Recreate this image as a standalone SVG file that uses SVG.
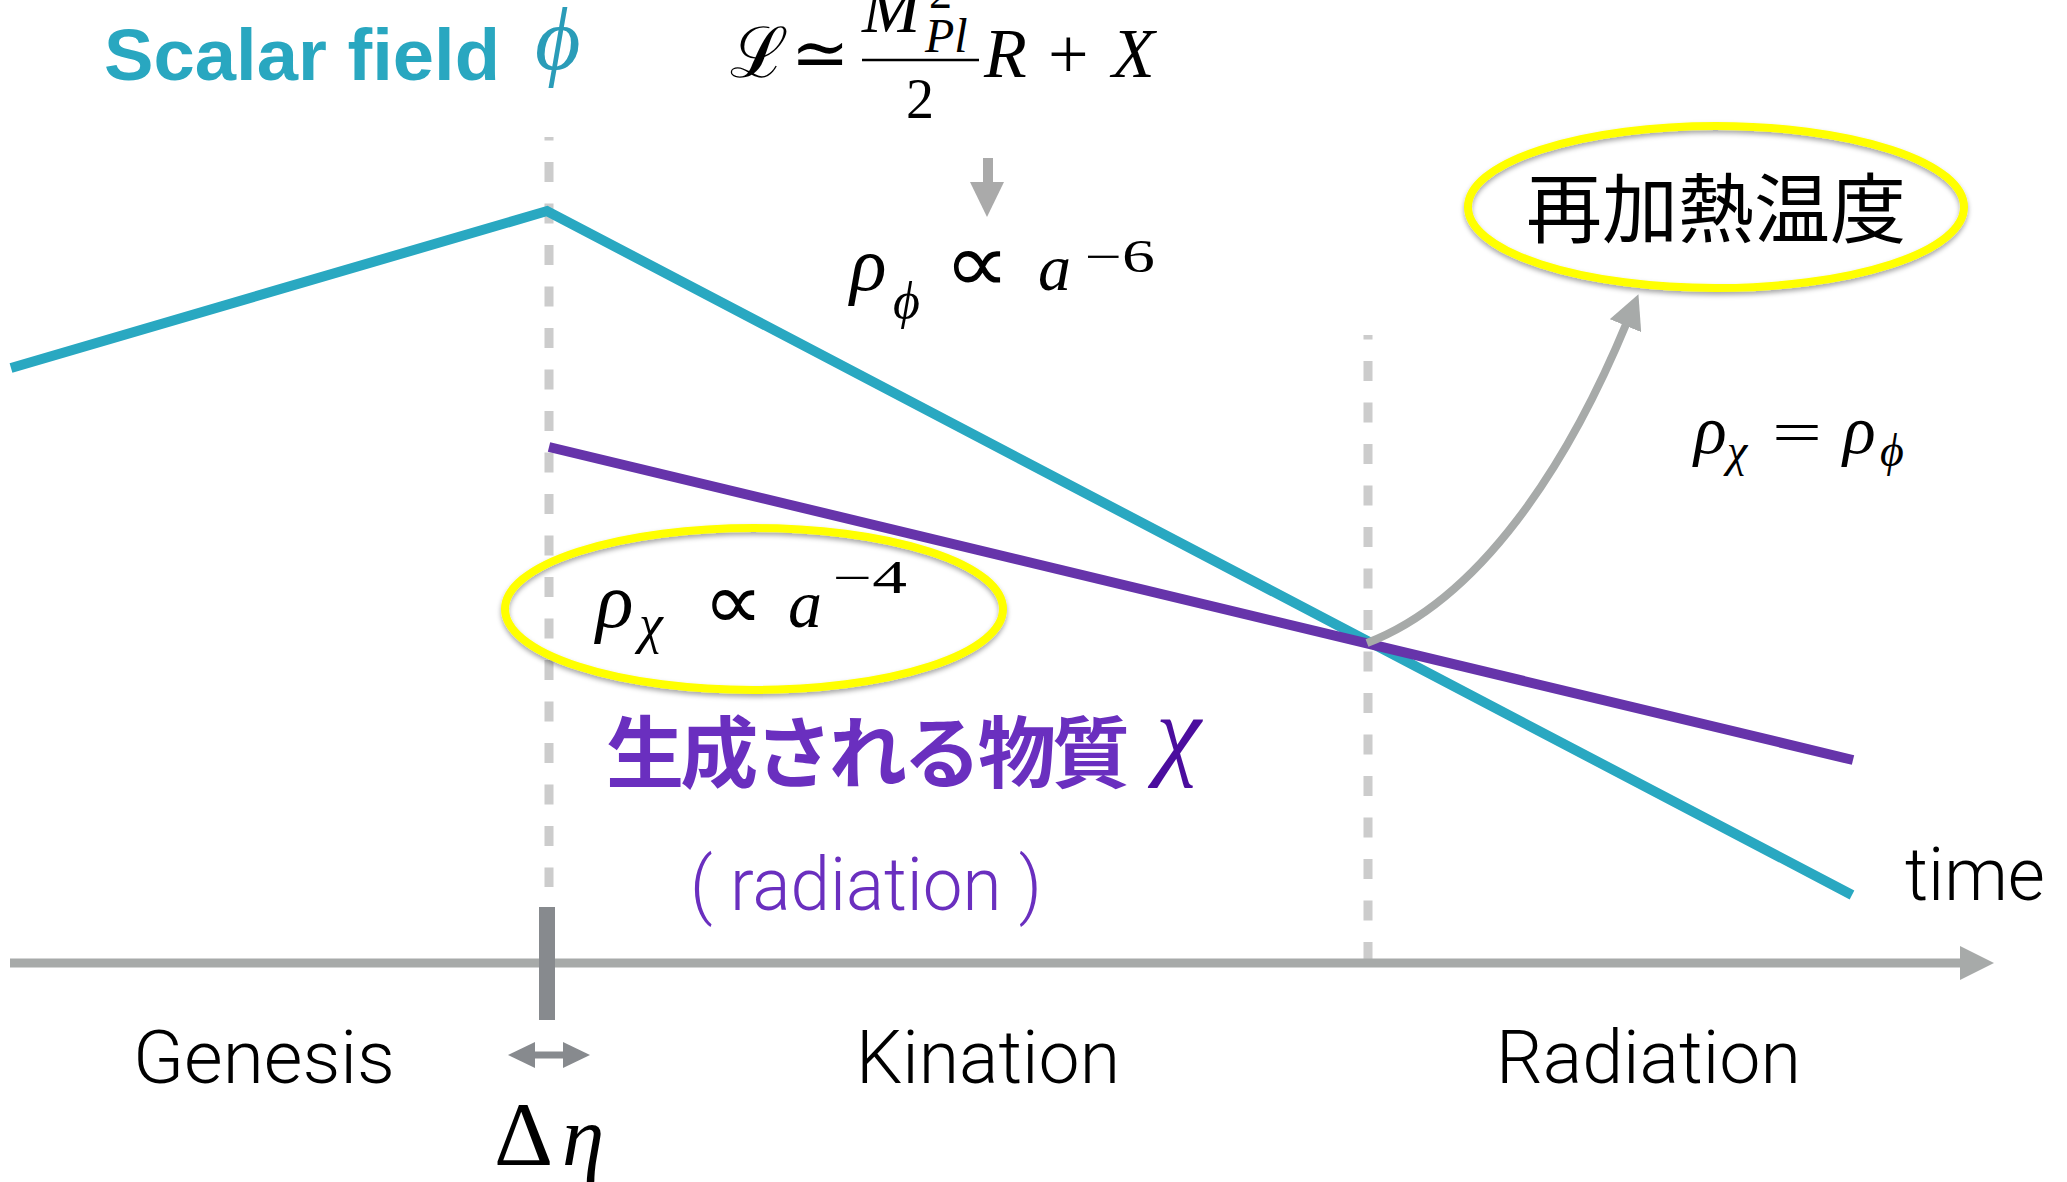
<svg xmlns="http://www.w3.org/2000/svg" width="2067" height="1182" viewBox="0 0 2067 1182">
<defs>
<style>
.m{font-family:"Liberation Serif","DejaVu Serif",serif;fill:#000}
.i{font-style:italic}
.sym{font-family:"DejaVu Sans","Liberation Serif",serif;font-weight:normal;fill:#000}
.lbl{font-family:Roboto,"Liberation Sans",sans-serif;font-weight:300;font-size:74px;fill:#000}
.dash{stroke:#cccccc;stroke-width:9;stroke-dasharray:20 21.5;fill:none}
.ell{fill:none;stroke:#ffff00;stroke-width:8;filter:url(#sh)}
.cyan{stroke:#29a8c1;stroke-width:10;fill:none}
.purple{stroke:#6634aa;stroke-width:10;fill:none}
.gray{fill:#a7aaa9}
.dgray{fill:#878a8e}
.cjk{font-family:"Noto Sans CJK JP","Noto Sans CJK SC",sans-serif}
</style>
<filter id="sh" x="-10%" y="-15%" width="120%" height="140%">
<feDropShadow dx="0" dy="3" stdDeviation="2.5" flood-color="#000" flood-opacity="0.35"/>
</filter>
<marker id="ah" viewBox="0 0 34 34" markerWidth="34" markerHeight="34" markerUnits="userSpaceOnUse" refX="4" refY="17" orient="auto">
<path d="M0,0 L34,17 L0,34 z" fill="#a7aaa9"/>
</marker>
</defs>
<rect width="2067" height="1182" fill="#ffffff"/>

<g id="connectors">
<line class="dash" x1="549" y1="137" x2="549" y2="887" stroke-dashoffset="16.5"/>
<line class="dash" x1="1368" y1="335" x2="1368" y2="960" stroke-dashoffset="15.5"/>
<line x1="10" y1="963" x2="1962" y2="963" stroke="#a7aaa9" stroke-width="9"/>
<polygon class="gray" points="1960,946 1994,963 1960,980"/>
<rect class="dgray" x="539" y="907" width="16" height="113"/>
<polyline class="cyan" points="11,368 547,211 1852,895" stroke-linejoin="miter"/>
<line class="purple" x1="549" y1="447" x2="1853" y2="760"/>
<path d="M1367,643 C1480,600 1568,465 1627,322" fill="none" stroke="#a7aaa9" stroke-width="8" marker-end="url(#ah)"/>
<rect x="983" y="158" width="10" height="25" fill="#aaaaaa"/>
<polygon points="970,182 1004,182 987,217" fill="#aaaaaa"/>
<line x1="520" y1="1055" x2="578" y2="1055" stroke="#878a8e" stroke-width="7"/>
<polygon class="dgray" points="508,1055 535,1042 535,1068"/>
<polygon class="dgray" points="590,1055 563,1042 563,1068"/>
</g>

<g id="scalar-title">
<text x="104" y="80" font-family="'Liberation Sans',Arial,sans-serif" font-weight="bold" font-size="73" fill="#29a7c0" textLength="396" lengthAdjust="spacingAndGlyphs">Scalar field</text>
<text class="m i" font-size="88" x="535" y="69" style="fill:#2a9cb8">ϕ</text>
</g>

<g id="lagrangian">
<text class="m" font-size="70" x="730" y="77">ℒ</text>
<text class="m" font-size="70" x="791" y="77">≃</text>
<line x1="862" y1="60" x2="979" y2="60" stroke="#000" stroke-width="2.6"/>
<text class="m i" font-size="70" x="862" y="32">M</text>
<text class="m i" font-size="48" x="925" y="52">Pl</text>
<text class="m" font-size="46" x="929" y="8">2</text>
<text class="m" font-size="56" x="906" y="118">2</text>
<text class="m i" font-size="70" x="984" y="77">R</text>
<text class="m" font-size="72" x="1048" y="78">+</text>
<text class="m i" font-size="70" x="1112" y="77">X</text>
</g>

<g id="rho-phi">
<text class="m i" font-size="76" x="850" y="290">ρ</text>
<text class="m i" font-size="52" x="893" y="318">ϕ</text>
<text class="sym" font-size="84" x="944" y="292" textLength="66" lengthAdjust="spacingAndGlyphs">∝</text>
<text class="m i" font-size="66" x="1038" y="290">a</text>
<text class="m" font-size="46" x="1085" y="272" textLength="70" lengthAdjust="spacingAndGlyphs">−6</text>
</g>

<g id="reheating">
<ellipse class="ell" cx="1716" cy="207" rx="248" ry="81"/>
<text class="cjk" x="1716" y="237" font-size="76" text-anchor="middle">再加熱温度</text>
</g>

<g id="equality">
<text class="m i" font-size="68" x="1694" y="453">ρ</text>
<text class="m i" font-size="46" x="1727" y="466">χ</text>
<text class="m" font-size="62" x="1772" y="453" textLength="50" lengthAdjust="spacingAndGlyphs">=</text>
<text class="m i" font-size="68" x="1843" y="453">ρ</text>
<text class="m i" font-size="46" x="1880" y="466">ϕ</text>
</g>

<g id="rho-chi">
<ellipse class="ell" cx="754" cy="609" rx="249" ry="81"/>
<text class="m i" font-size="78" x="596" y="627">ρ</text>
<text class="m i" font-size="54" x="639" y="642">χ</text>
<text class="sym" font-size="80" x="703" y="629" textLength="60" lengthAdjust="spacingAndGlyphs">∝</text>
<text class="m i" font-size="68" x="788" y="627">a</text>
<text class="m" font-size="46" x="833" y="593" textLength="74" lengthAdjust="spacingAndGlyphs">−4</text>
</g>

<g id="matter">
<text class="cjk" x="606" y="782" font-size="78" font-weight="bold" fill="#6a2fbf" textLength="524" lengthAdjust="spacing">生成される物質</text>
<text class="m i" font-size="102" x="1156" y="766" style="fill:#4b0d9e">χ</text>
</g>

<g id="radiation-note">
<text class="lbl" x="690" y="910" style="fill:#6a2fbf" textLength="352" lengthAdjust="spacingAndGlyphs">( radiation )</text>
</g>

<g id="time-label">
<text class="lbl" x="1905" y="900" textLength="140" lengthAdjust="spacingAndGlyphs">time</text>
</g>

<g id="phase-genesis">
<text class="lbl" x="133" y="1083" textLength="262" lengthAdjust="spacingAndGlyphs">Genesis</text>
</g>
<g id="phase-kination">
<text class="lbl" x="856" y="1083" textLength="264" lengthAdjust="spacingAndGlyphs">Kination</text>
</g>
<g id="phase-radiation">
<text class="lbl" x="1496" y="1083" textLength="305" lengthAdjust="spacingAndGlyphs">Radiation</text>
</g>

<g id="delta-eta">
<text class="m" font-size="92" x="494" y="1165">Δ</text>
<text class="m i" font-size="85" x="562" y="1165">η</text>
</g>
</svg>
